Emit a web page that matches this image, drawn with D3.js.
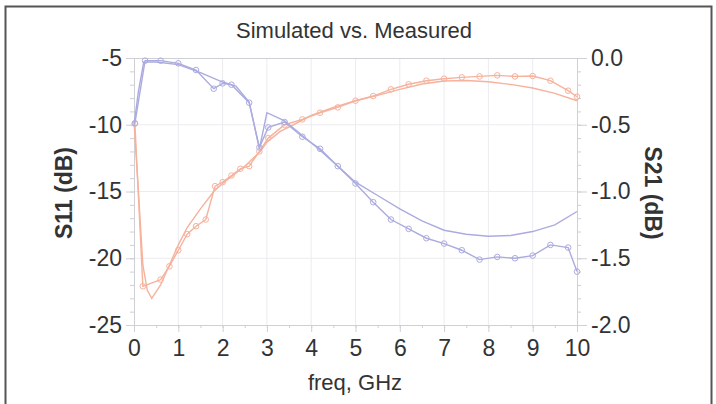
<!DOCTYPE html>
<meta charset="utf-8">
<head>
    <title>Simulated vs. Measured</title>
    <style>
        body { margin: 0; background: #fff; }
        svg text { font-family: "Liberation Sans", Arial, sans-serif; fill: #333; }
    </style>
</head>
<body>
<svg width="716" height="404"></svg>
<script src="https://d3js.org/d3.v7.min.js"></script>
<script>

    // S11 simulated (smooth, no markers)
    var s11SimFreq = [0, 0.1, 0.22, 0.5, 1.0, 1.5, 2.0, 2.3, 2.6, 2.83, 3.0, 3.4, 3.8, 4.2, 4.6, 5.0, 5.5, 6.0, 6.5, 7.0, 7.5, 8.0, 8.5, 9.0, 9.5, 10];
    var s11Sim = [-10, -7.5, -5.3, -5.3, -5.5, -6.1, -6.8, -7.1, -8.3, -11.8, -9.1, -9.7, -10.8, -11.9, -13.1, -14.3, -15.3, -16.3, -17.2, -17.9, -18.2, -18.35, -18.3, -18.0, -17.5, -16.5];

    // S11 measured (markers)
    var s11MeasFreq = [0.02, 0.25, 0.6, 1.0, 1.4, 1.8, 2.0, 2.2, 2.6, 2.83, 3.03, 3.4, 3.8, 4.2, 4.6, 5.0, 5.4, 5.8, 6.2, 6.6, 7.0, 7.4, 7.8, 8.2, 8.6, 9.0, 9.4, 9.8, 10];
    var s11Meas = [-9.9, -5.2, -5.2, -5.4, -5.9, -7.3, -6.9, -7.0, -8.35, -11.7, -10.2, -9.8, -10.9, -11.8, -13.1, -14.4, -15.8, -17.1, -17.8, -18.5, -18.9, -19.4, -20.1, -19.9, -20.0, -19.8, -19.0, -19.2, -21.0];

    // S21 simulated (smooth, no markers)
    var s21SimFreq = [0, 0.1, 0.2, 0.3, 0.4, 0.6, 0.8, 1.0, 1.2, 1.5, 1.8, 2.0, 2.5, 2.85, 3.0, 3.3, 3.6, 4.0, 4.5, 5.0, 5.5, 6.0, 6.5, 7.0, 7.5, 8.0, 8.5, 9.0, 9.5, 10];
    var s21Sim = [-0.48, -1.0, -1.55, -1.74, -1.8, -1.7, -1.55, -1.4, -1.27, -1.13, -1.0, -0.94, -0.81, -0.7, -0.63, -0.55, -0.5, -0.43, -0.37, -0.32, -0.28, -0.235, -0.195, -0.172, -0.168, -0.178, -0.198, -0.225, -0.265, -0.32];

    // S21 measured (markers)
    var s21MeasFreq = [0.02, 0.2, 0.6, 0.8, 1.0, 1.2, 1.4, 1.62, 1.83, 2.0, 2.2, 2.4, 2.6, 2.83, 3.03, 3.4, 3.8, 4.2, 4.6, 5.0, 5.4, 5.8, 6.2, 6.6, 7.0, 7.4, 7.8, 8.2, 8.6, 9.0, 9.4, 9.8, 10];
    var s21Meas = [-0.49, -1.71, -1.66, -1.56, -1.44, -1.32, -1.26, -1.21, -0.96, -0.93, -0.88, -0.83, -0.81, -0.7, -0.6, -0.5, -0.46, -0.41, -0.37, -0.32, -0.285, -0.235, -0.197, -0.17, -0.155, -0.145, -0.138, -0.13, -0.138, -0.135, -0.17, -0.245, -0.29];

    var xTicks = [0, 1, 2, 3, 4, 5, 6, 7, 8, 9, 10];
    var leftTicks = [-5, -10, -15, -20, -25];
    var rightTicks = ["0.0", "-0.5", "-1.0", "-1.5", "-2.0"];

    var svg = d3.select("svg");
    var plotL = 134, plotR = 577, plotT = 58, plotB = 325;

    var blue = "#ababdf", orange = "#f6b29d";

    var x = d3.scaleLinear().domain([0, 10]).range([plotL, plotR]);
    var yL = d3.scaleLinear().domain([-25, -5]).range([plotB, plotT]);
    var yR = d3.scaleLinear().domain([-2, 0]).range([plotB, plotT]);

    //outer frame
    svg.append("rect")
            .attr("x", 5.5).attr("y", 6.5)
            .attr("width", 706).attr("height", 420)
            .attr("fill", "none")
            .attr("stroke", "#555")
            .attr("stroke-width", 2);

    //grid
    svg.append("g").selectAll("line")
            .data(xTicks.slice(1, -1))
            .enter().append("line")
            .attr("x1", function(d) { return x(d); })
            .attr("x2", function(d) { return x(d); })
            .attr("y1", plotT).attr("y2", plotB)
            .attr("stroke", "#ececf0");
    svg.append("g").selectAll("line")
            .data(leftTicks.slice(1, -1))
            .enter().append("line")
            .attr("y1", function(d) { return yL(d); })
            .attr("y2", function(d) { return yL(d); })
            .attr("x1", plotL).attr("x2", plotR)
            .attr("stroke", "#ececf0");

    //axes
    function styleAxis(g) {
        g.selectAll("path").attr("stroke", "#cfcfd6");
        g.selectAll("line").attr("stroke", "#cfcfd6");
        g.selectAll("text").attr("font-size", "23px").attr("fill", "#383838");
    }

    var xMinor = d3.range(0, 10.01, 0.5);
    svg.append("g")
            .attr("transform", "translate(0," + plotB + ")")
            .call(d3.axisBottom(x).tickValues(xMinor).tickFormat("").tickSize(3))
            .call(styleAxis);
    svg.append("g")
            .attr("transform", "translate(0," + plotB + ")")
            .call(d3.axisBottom(x).tickValues(xTicks).tickSize(7).tickPadding(8).tickFormat(function(d) { return String(d); }))
            .call(styleAxis);

    var lMinor = d3.range(-25, -4.99, 1);
    svg.append("g")
            .attr("transform", "translate(" + plotL + ",0)")
            .call(d3.axisLeft(yL).tickValues(lMinor).tickFormat("").tickSize(4))
            .call(styleAxis);
    svg.append("g")
            .attr("transform", "translate(" + plotL + ",0)")
            .call(d3.axisLeft(yL).tickValues(leftTicks).tickSize(8).tickPadding(4).tickFormat(function(d) { return String(d); }))
            .call(styleAxis);

    var rMinor = d3.range(-2, 0.001, 0.1);
    svg.append("g")
            .attr("transform", "translate(" + plotR + ",0)")
            .call(d3.axisRight(yR).tickValues(rMinor).tickFormat("").tickSize(4))
            .call(styleAxis);
    svg.append("g")
            .attr("transform", "translate(" + plotR + ",0)")
            .call(d3.axisRight(yR).tickValues(rightTicks.map(Number)).tickSize(10).tickPadding(4)
                    .tickFormat(function(d, i) { return rightTicks[i]; }))
            .call(styleAxis);

    //top border of plot
    svg.append("line")
            .attr("x1", plotL).attr("x2", plotR)
            .attr("y1", plotT + 0.5).attr("y2", plotT + 0.5)
            .attr("stroke", "#cfcfd6");

    //series
    function drawLine(fx, fy, yScale, col) {
        var pts = fx.map(function(f, i) { return [f, fy[i]]; });
        svg.append("path")
                .datum(pts)
                .attr("fill", "none")
                .attr("stroke", col)
                .attr("stroke-width", 1.4)
                .attr("d", d3.line()
                        .x(function(d) { return x(d[0]); })
                        .y(function(d) { return yScale(d[1]); }));
        return pts;
    }
    function drawMarkers(pts, yScale, col) {
        svg.append("g").selectAll("circle")
                .data(pts)
                .enter().append("circle")
                .attr("cx", function(d) { return x(d[0]); })
                .attr("cy", function(d) { return yScale(d[1]); })
                .attr("r", 2.8)
                .attr("fill", "none")
                .attr("stroke", col)
                .attr("stroke-width", 1);
    }

    drawLine(s21SimFreq, s21Sim, yR, orange);
    drawMarkers(drawLine(s21MeasFreq, s21Meas, yR, orange), yR, orange);
    drawLine(s11SimFreq, s11Sim, yL, blue);
    drawMarkers(drawLine(s11MeasFreq, s11Meas, yL, blue), yL, blue);

    //titles
    svg.append("text")
            .attr("x", 354).attr("y", 38)
            .attr("text-anchor", "middle")
            .attr("font-size", "22px")
            .text("Simulated vs. Measured");
    svg.append("text")
            .attr("x", 355).attr("y", 390)
            .attr("text-anchor", "middle")
            .attr("font-size", "22px")
            .text("freq, GHz");
    svg.append("text")
            .attr("transform", "translate(72,193) rotate(-90)")
            .attr("text-anchor", "middle")
            .attr("font-size", "23px")
            .attr("font-weight", "bold")
            .attr("fill", "#111")
            .text("S11 (dB)");
    svg.append("text")
            .attr("transform", "translate(645,193) rotate(90)")
            .attr("text-anchor", "middle")
            .attr("font-size", "23px")
            .attr("font-weight", "bold")
            .attr("fill", "#111")
            .text("S21 (dB)");

</script>
</body>
